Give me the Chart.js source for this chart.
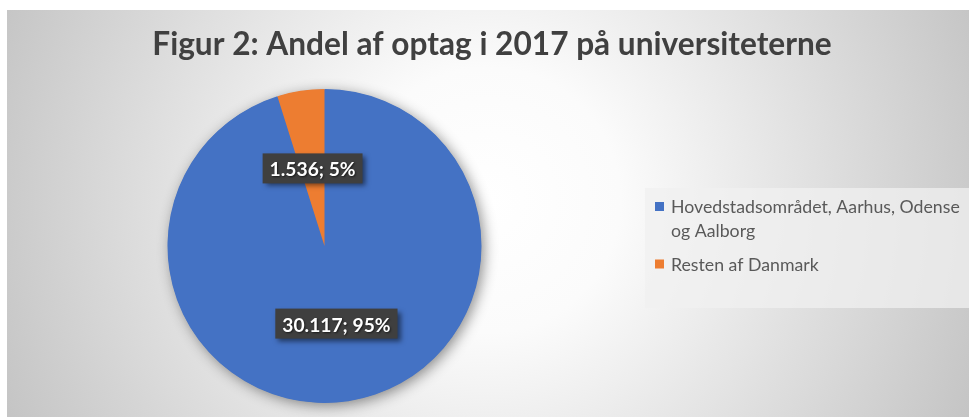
<!DOCTYPE html>
<html><head><meta charset="utf-8">
<script src="https://cdn.jsdelivr.net/npm/chart.js@4/dist/chart.umd.min.js"></script>
<style>html,body{margin:0;padding:0;background:#fff;overflow:hidden}canvas{display:block}</style>
</head><body>
<canvas id="c" width="969" height="417"></canvas>
<script>
// ---- data ----
const chartTitle = 'Figur 2: Andel af optag i 2017 på universiteterne';
const categories = [['Hovedstadsområdet, Aarhus, Odense', 'og Aalborg'], ['Resten af Danmark']];
const values = [30117, 1536];
const colors = ['#4472C4', '#ED7D31'];

const FAMILY = 'Lato, "Open Sans", sans-serif';
function fmtDK(n){ return String(n).replace(/\B(?=(\d{3})+(?!\d))/g, '.'); }
function fitSize(ctx, text, weight, target){
  ctx.font = weight + ' 100px ' + FAMILY;
  return 100 * target / ctx.measureText(text).width;
}

const bgPlugin = {
  id: 'bg',
  beforeDraw(chart){
    const ctx = chart.ctx;
    ctx.save();
    ctx.fillStyle = '#ffffff';
    ctx.fillRect(0, 0, chart.width, chart.height);
    const g = ctx.createRadialGradient(488, 200, 0, 488, 200, 530);
    g.addColorStop(0, '#ffffff');
    g.addColorStop(0.25, '#fbfbfb');
    g.addColorStop(1, '#c4c4c4');
    ctx.fillStyle = g;
    ctx.fillRect(7, 10, 962, 407);
    // title
    const ts = fitSize(ctx, chartTitle, 'bold', 680);
    ctx.font = 'bold ' + ts + 'px ' + FAMILY;
    ctx.fillStyle = '#404040';
    ctx.textAlign = 'center';
    ctx.textBaseline = 'alphabetic';
    ctx.fillText(chartTitle, 492, 55);
    ctx.restore();
  }
};

const shadowPlugin = {
  id: 'pieShadow',
  beforeDatasetsDraw(chart){
    const el = chart.getDatasetMeta(0).data[0];
    if (!el) return;
    const ctx = chart.ctx;
    ctx.save();
    ctx.shadowColor = 'rgba(0,0,0,0.45)';
    ctx.shadowBlur = 14;
    ctx.shadowOffsetX = 3;
    ctx.shadowOffsetY = 3;
    ctx.fillStyle = colors[0];
    ctx.beginPath();
    ctx.arc(el.x, el.y, el.outerRadius - 0.5, 0, Math.PI * 2);
    ctx.fill();
    ctx.restore();
  }
};

const labelPlugin = {
  id: 'dataLabels',
  afterDatasetsDraw(chart){
    const ctx = chart.ctx;
    const total = values.reduce((a, b) => a + b, 0);
    const fs = fitSize(ctx, '1.536; 5%', 'bold', 86);
    chart.getDatasetMeta(0).data.forEach((el, i) => {
      const p = el.tooltipPosition();
      const txt = fmtDK(values[i]) + '; ' + Math.round(values[i] / total * 100) + '%';
      ctx.save();
      ctx.font = 'bold ' + fs + 'px ' + FAMILY;
      const w = ctx.measureText(txt).width + 14;
      const h = 30;
      ctx.shadowColor = 'rgba(0,0,0,0.5)';
      ctx.shadowBlur = 5;
      ctx.shadowOffsetX = 3;
      ctx.shadowOffsetY = 3;
      ctx.fillStyle = '#3f3f3f';
      ctx.fillRect(p.x - w / 2, p.y - h / 2, w, h);
      ctx.shadowColor = 'rgba(0,0,0,0.6)';
      ctx.shadowBlur = 2;
      ctx.shadowOffsetX = 1;
      ctx.shadowOffsetY = 1;
      ctx.fillStyle = '#ffffff';
      ctx.textAlign = 'center';
      ctx.textBaseline = 'alphabetic';
      ctx.fillText(txt, p.x, p.y + 8);
      ctx.restore();
    });
  }
};

const legendPlugin = {
  id: 'customLegend',
  afterDraw(chart){
    const ctx = chart.ctx;
    ctx.save();
    ctx.fillStyle = 'rgba(240,240,240,0.75)';
    ctx.fillRect(645, 188, 324, 120);
    const fs = fitSize(ctx, categories[0][0], 'normal', 289);
    ctx.font = fs + 'px ' + FAMILY;
    ctx.textAlign = 'left';
    ctx.textBaseline = 'alphabetic';
    let y = 213;
    categories.forEach((lines, i) => {
      ctx.fillStyle = colors[i];
      ctx.fillRect(655, y - 11, 9, 9);
      ctx.fillStyle = '#595959';
      lines.forEach((ln, j) => {
        ctx.fillText(ln, 671, y);
        y += 23.5;
      });
      y += 10.5;
    });
    ctx.restore();
  }
};

new Chart(document.getElementById('c'), {
  type: 'pie',
  data: {
    labels: categories.map(c => c.join(' ')),
    datasets: [{ data: values, backgroundColor: colors, borderWidth: 0, hoverOffset: 0 }]
  },
  options: {
    responsive: false,
    devicePixelRatio: 1,
    animation: false,
    events: [],
    layout: { padding: { left: 167.5, right: 487.5, top: 89, bottom: 14 } },
    plugins: { legend: { display: false }, title: { display: false }, tooltip: { enabled: false } }
  },
  plugins: [bgPlugin, shadowPlugin, labelPlugin, legendPlugin]
});
</script>
</body></html>
